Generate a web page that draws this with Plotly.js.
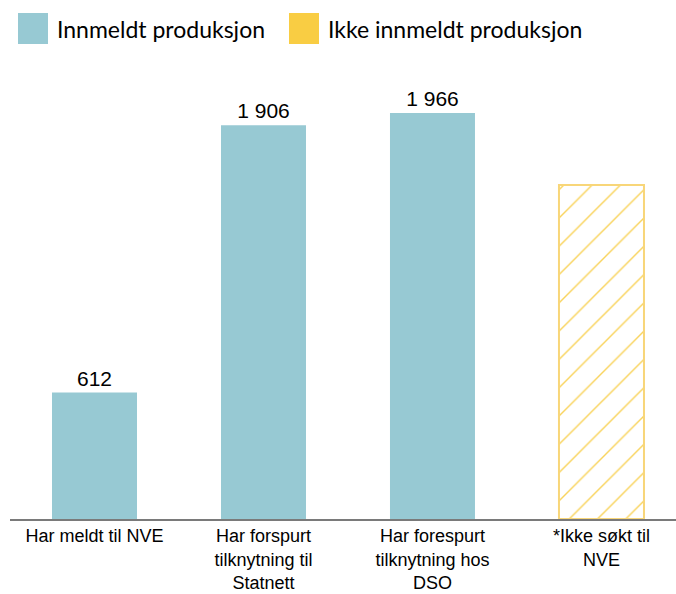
<!DOCTYPE html>
<html>
<head>
<meta charset="utf-8">
<script src="https://cdn.plot.ly/plotly-3.0.1.min.js"></script>
<style>
  html, body { margin: 0; padding: 0; background: #fff; }
  #chart { width: 676px; height: 594px; }
</style>
</head>
<body>
<div id="chart"></div>
<script>
// categories (tick labels, wrapped like the original)
const categories = [
  'Har meldt til NVE',
  'Har forspurt<br>tilknytning til<br>Statnett',
  'Har forespurt<br>tilknytning hos<br>DSO',
  '*Ikke søkt til<br>NVE'
];

// series
const reportedCats = categories.slice(0, 3);
const reportedValues = [612, 1906, 1966];
const unreportedCats = categories.slice(3);
const unreportedValues = [1617];

const seriesNames = ['Innmeldt produksjon', 'Ikke innmeldt produksjon'];

const blue = '#97C9D3';
const yellow = '#F9CD43';

function spaced(v) {
  return String(v).replace(/\B(?=(\d{3})+(?!\d))/g, ' ');
}

const data = [
  {
    type: 'bar',
    x: reportedCats,
    y: reportedValues,
    name: seriesNames[0],
    marker: {color: blue},
    text: reportedValues.map(spaced),
    textposition: 'outside',
    textfont: {family: 'Liberation Sans, Arial, sans-serif', size: 21, color: '#000'},
    cliponaxis: false,
    hoverinfo: 'x+y',
    showlegend: false
  },
  {
    type: 'bar',
    x: unreportedCats,
    y: unreportedValues,
    name: seriesNames[1],
    marker: {
      color: '#fff',
      line: {color: '#F8D679', width: 2},
      pattern: {shape: '/', fgcolor: '#F9D35A', bgcolor: '#fff', size: 20, solidity: 0.07}
    },
    hoverinfo: 'x+y',
    showlegend: false
  }
];

// hand-made legend (big square swatches)
const L = 10, W = 666, T = 60, H = 459;
const px = v => (v - L) / W;
const py = v => (T + H - v) / H;

const legendItems = [
  {x0: 18, text: seriesNames[0], color: blue},
  {x0: 289, text: seriesNames[1], color: yellow}
];

const shapes = legendItems.map(it => ({
  type: 'rect', xref: 'paper', yref: 'paper',
  x0: px(it.x0), x1: px(it.x0 + 30), y0: py(44), y1: py(13),
  fillcolor: it.color, line: {width: 0}
}));

const annotations = legendItems.map(it => ({
  xref: 'paper', yref: 'paper',
  x: px(it.x0 + 37), y: py(29),
  xanchor: 'left', yanchor: 'middle',
  text: it.text, showarrow: false,
  font: {family: 'Lato, sans-serif', size: 23, color: '#000'}
}));

const layout = {
  width: 676,
  height: 594,
  margin: {l: L, r: 0, t: T, b: 594 - T - H},
  paper_bgcolor: '#fff',
  plot_bgcolor: '#fff',
  barmode: 'relative',
  bargap: 0.497,
  showlegend: false,
  xaxis: {
    type: 'category',
    range: [-0.5, 3.441],
    showline: true,
    linecolor: '#7a7a7a',
    linewidth: 1.5,
    ticks: '',
    showgrid: false,
    tickfont: {family: 'Liberation Sans, Arial, sans-serif', size: 18, color: '#000'}
  },
  yaxis: {
    range: [0, 2222],
    visible: false,
    showgrid: false,
    zeroline: false
  },
  shapes: shapes,
  annotations: annotations
};

Plotly.newPlot('chart', data, layout, {displayModeBar: false, staticPlot: true});
</script>
</body>
</html>
